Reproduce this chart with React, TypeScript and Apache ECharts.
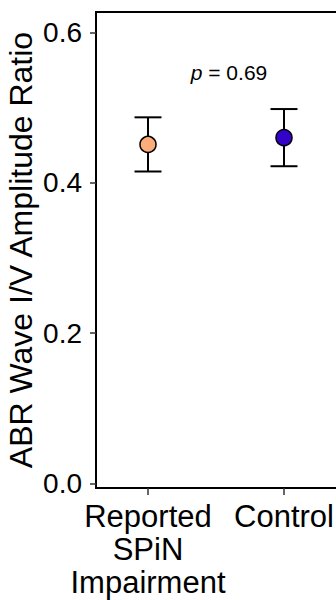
import React, { useEffect, useRef } from "react";
import * as echarts from "echarts";

const categories = ["Reported\nSPiN\nImpairment", "Control"];
const xPositions = [1, 2];
const means = [0.451, 0.46];
const upper = [0.487, 0.498];
const lower = [0.415, 0.422];
const pointColors = ["#FDAC7A", "#3303C9"];
const yTicks = [0, 0.2, 0.4, 0.6];
const pLabel = "0.69";

const FONT = "'Liberation Sans', Arial, Helvetica, sans-serif";

export default function App() {
  const ref = useRef<HTMLDivElement>(null);
  useEffect(() => {
    if (!ref.current) return;
    const chart = echarts.init(ref.current, null, { renderer: "svg" });
    const errData = xPositions.map((x, i) => [x, lower[i], upper[i]]);
    const ptData = xPositions.map((x, i) => ({
      value: [x, means[i]],
      itemStyle: { color: pointColors[i] },
    }));
    chart.setOption({
      animation: false,
      backgroundColor: "#ffffff",
      textStyle: { fontFamily: FONT },
      grid: {
        left: 96,
        right: -4,
        top: 12,
        bottom: 112,
        containLabel: false,
        outerBoundsMode: "none",
        show: true,
        borderColor: "#000",
        borderWidth: 2,
      },
      xAxis: {
        type: "value",
        min: 1 - 52 / 136,
        max: 1 + 192 / 136,
        splitLine: { show: false },
        axisLine: { show: true, onZero: false, lineStyle: { color: "#000", width: 2 } },
        axisTick: {
          show: true,
          length: 7,
          lineStyle: { color: "#333", width: 1.5 },
          customValues: xPositions,
        },
        axisLabel: {
          customValues: xPositions,
          formatter: (v: number) => categories[xPositions.indexOf(Math.round(v))] ?? "",
          color: "#000",
          fontSize: 31,
          lineHeight: 33,
          margin: 12,
          fontFamily: FONT,
        },
      },
      yAxis: {
        type: "value",
        min: -0.0057,
        max: 0.627,
        splitLine: { show: false },
        name: "ABR Wave I/V Amplitude Ratio",
        nameLocation: "middle",
        nameRotate: 90,
        nameGap: 59,
        nameMoveOverlap: false,
        nameTextStyle: { color: "#000", fontSize: 32, fontFamily: FONT },
        axisLine: { show: true, onZero: false, lineStyle: { color: "#000", width: 2 } },
        axisTick: {
          show: true,
          length: 6,
          lineStyle: { color: "#333", width: 1.5 },
          customValues: yTicks,
        },
        axisLabel: {
          customValues: yTicks,
          formatter: (v: number) => v.toFixed(1),
          color: "#000",
          fontSize: 28,
          margin: 14,
          fontFamily: FONT,
        },
      },
      series: [
        {
          type: "custom",
          data: errData,
          z: 2,
          renderItem: (params: any, api: any) => {
            const x = api.value(0);
            const lo = api.coord([x, api.value(1)]);
            const hi = api.coord([x, api.value(2)]);
            const hw = 13.5;
            const style = { stroke: "#000", lineWidth: 2 };
            return {
              type: "group",
              children: [
                { type: "line", shape: { x1: lo[0], y1: lo[1], x2: hi[0], y2: hi[1] }, style },
                { type: "line", shape: { x1: hi[0] - hw, y1: hi[1], x2: hi[0] + hw, y2: hi[1] }, style },
                { type: "line", shape: { x1: lo[0] - hw, y1: lo[1], x2: lo[0] + hw, y2: lo[1] }, style },
              ],
            };
          },
        },
        {
          type: "scatter",
          data: ptData,
          z: 3,
          symbol: "circle",
          symbolSize: 16,
          itemStyle: { borderColor: "#000", borderWidth: 1.5, opacity: 1 },
        },
      ],
      graphic: [
        {
          type: "text",
          x: 229,
          y: 72,
          style: {
            text: "{i|p} = " + pLabel,
            fontSize: 21,
            fontFamily: FONT,
            fill: "#000",
            align: "center",
            verticalAlign: "middle",
            rich: {
              i: { fontStyle: "italic", fontSize: 21, fontFamily: FONT, fill: "#000" },
            },
          },
        },
      ],
    });
    return () => chart.dispose();
  }, []);
  return (
    <div
      ref={ref}
      style={{ position: "fixed", left: 0, top: 0, width: 336, height: 600 }}
    />
  );
}
